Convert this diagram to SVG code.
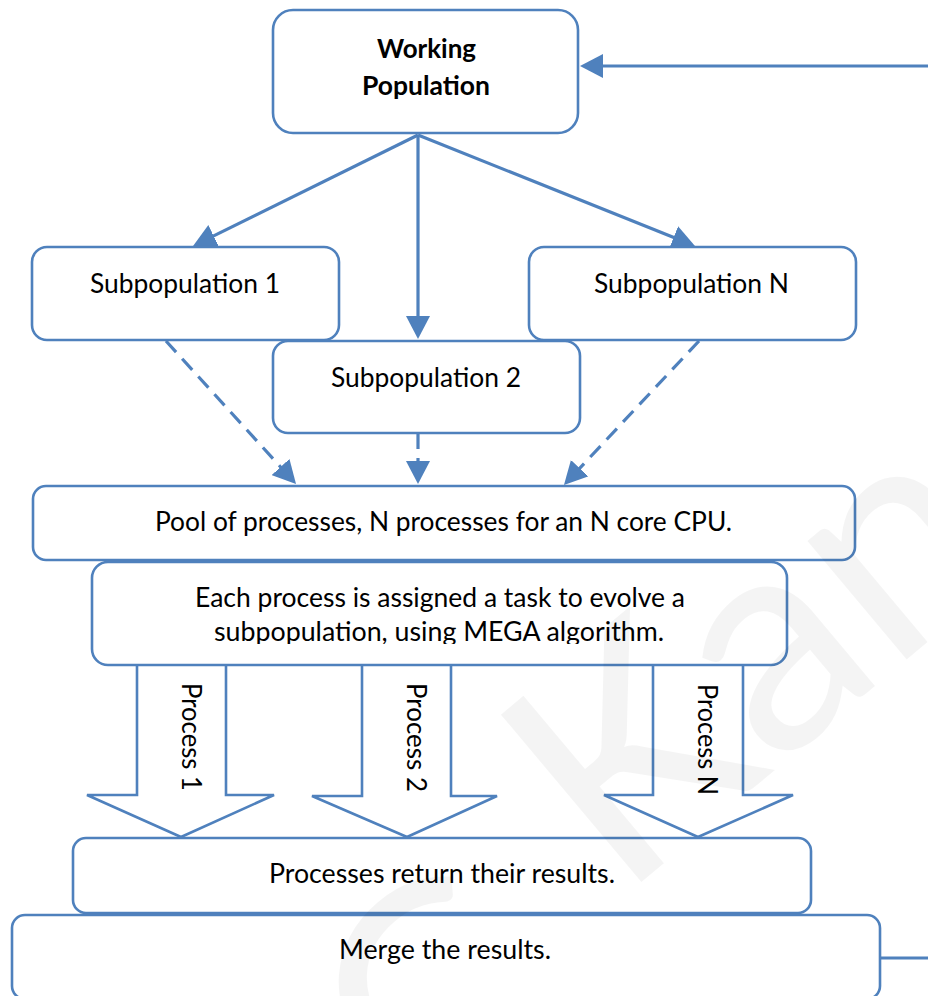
<svg xmlns="http://www.w3.org/2000/svg" width="928" height="996" viewBox="0 0 928 996">
  <defs>
    <style>
      .box { fill: #ffffff; stroke: #4f81bd; stroke-width: 2.6; }
      .link { fill: none; stroke: #4f81bd; stroke-width: 3.2; }
      .dash { stroke-dasharray: 15 9; }
      .block { fill: #ffffff; stroke: #4f81bd; stroke-width: 2.6; stroke-linejoin: miter; }
      .lbl { font-family: Lato, "Open Sans", "Liberation Sans", sans-serif; font-size: 27px; fill: #000000; }
      .bold { font-weight: bold; }
      .mark { font-family: Lato, "Open Sans", "Liberation Sans", sans-serif; font-size: 305px; fill: #000000; fill-opacity: 0.045; }
    </style>
    <marker id="head" markerUnits="userSpaceOnUse" markerWidth="24" markerHeight="24" refX="13" refY="12" orient="auto">
      <path d="M0,0 L23,12 L0,24 z" fill="#4f81bd"/>
    </marker>
    <clipPath id="clipEach">
      <rect x="92" y="562" width="695" height="82"/>
    </clipPath>
  </defs>

  <rect width="928" height="996" fill="#ffffff"/>

  <!-- connectors -->
  <g id="connectors">
    <line class="link" x1="418" y1="135" x2="202" y2="241.6" marker-end="url(#head)"/>
    <line class="link" x1="418" y1="135" x2="418" y2="329" marker-end="url(#head)"/>
    <line class="link" x1="418" y1="135" x2="685.7" y2="242.3" marker-end="url(#head)"/>

    <line class="link dash" x1="166" y1="341" x2="289.3" y2="476.6" marker-end="url(#head)"/>
    <line class="link dash" x1="418" y1="434" x2="418" y2="474" marker-end="url(#head)"/>
    <line class="link dash" x1="699" y1="341" x2="570.8" y2="477.7" marker-end="url(#head)"/>

    <path class="link" d="M881,958 H940 V66 H590" marker-end="url(#head)"/>

    <!-- hollow block arrows, one per process -->
    <g id="arrow-p1">
      <polyline class="block" points="137,665 137,795 87,795 181,837 274,795 226,795 226,665"/>
      <text class="lbl" transform="translate(182,683) rotate(90)" textLength="108" lengthAdjust="spacingAndGlyphs">Process 1</text>
    </g>
    <g id="arrow-p2">
      <polyline class="block" points="362,665 362,796 312,796 407,837 497,796 451,796 451,665"/>
      <text class="lbl" transform="translate(407,683) rotate(90)" textLength="109" lengthAdjust="spacingAndGlyphs">Process 2</text>
    </g>
    <g id="arrow-pn">
      <polyline class="block" points="653,665 653,795 604,795 698,837 793,795 743,795 743,665"/>
      <text class="lbl" transform="translate(698,684) rotate(90)" textLength="111" lengthAdjust="spacingAndGlyphs">Process N</text>
    </g>
  </g>

  <!-- nodes -->
  <g id="working-population">
    <rect class="box" x="273" y="10" width="305" height="123" rx="20"/>
    <text class="lbl bold" x="377" y="58" textLength="99" lengthAdjust="spacingAndGlyphs">Working</text>
    <text class="lbl bold" x="362" y="95" textLength="128" lengthAdjust="spacingAndGlyphs">Population</text>
  </g>

  <g id="subpopulation-1">
    <rect class="box" x="32" y="247" width="307" height="93" rx="15"/>
    <text class="lbl" x="90" y="293" textLength="190" lengthAdjust="spacingAndGlyphs">Subpopulation 1</text>
  </g>

  <g id="subpopulation-n">
    <rect class="box" x="529" y="247" width="327" height="93" rx="15"/>
    <text class="lbl" x="594" y="293" textLength="195" lengthAdjust="spacingAndGlyphs">Subpopulation N</text>
  </g>

  <g id="subpopulation-2">
    <rect class="box" x="273" y="341" width="307" height="92" rx="15"/>
    <text class="lbl" x="331" y="387" textLength="190" lengthAdjust="spacingAndGlyphs">Subpopulation 2</text>
  </g>

  <g id="process-pool">
    <rect class="box" x="33" y="486" width="822" height="74" rx="13"/>
    <text class="lbl" x="155" y="531" textLength="577" lengthAdjust="spacingAndGlyphs">Pool of processes, N processes for an N core CPU.</text>
  </g>

  <g id="assign-tasks">
    <rect class="box" x="92" y="562" width="695" height="103" rx="16"/>
    <g clip-path="url(#clipEach)">
      <text class="lbl" x="195" y="607" textLength="490" lengthAdjust="spacingAndGlyphs">Each process is assigned a task to evolve a</text>
      <text class="lbl" x="214" y="641" textLength="450" lengthAdjust="spacingAndGlyphs">subpopulation, using MEGA algorithm.</text>
    </g>
  </g>

  <g id="return-results">
    <rect class="box" x="73" y="838" width="738" height="75" rx="13"/>
    <text class="lbl" x="269" y="883" textLength="346" lengthAdjust="spacingAndGlyphs">Processes return their results.</text>
  </g>

  <g id="merge-results">
    <rect class="box" x="12" y="915" width="868" height="84" rx="13"/>
    <text class="lbl" x="339" y="959" textLength="212" lengthAdjust="spacingAndGlyphs">Merge the results.</text>
  </g>

  <!-- faint diagonal watermark over the page -->
  <g id="watermark" transform="translate(620,900) rotate(-40)">
    <text class="mark" x="-308" y="67">C</text>
    <text class="mark" x="0" y="0">Kannan</text>
  </g>
</svg>
